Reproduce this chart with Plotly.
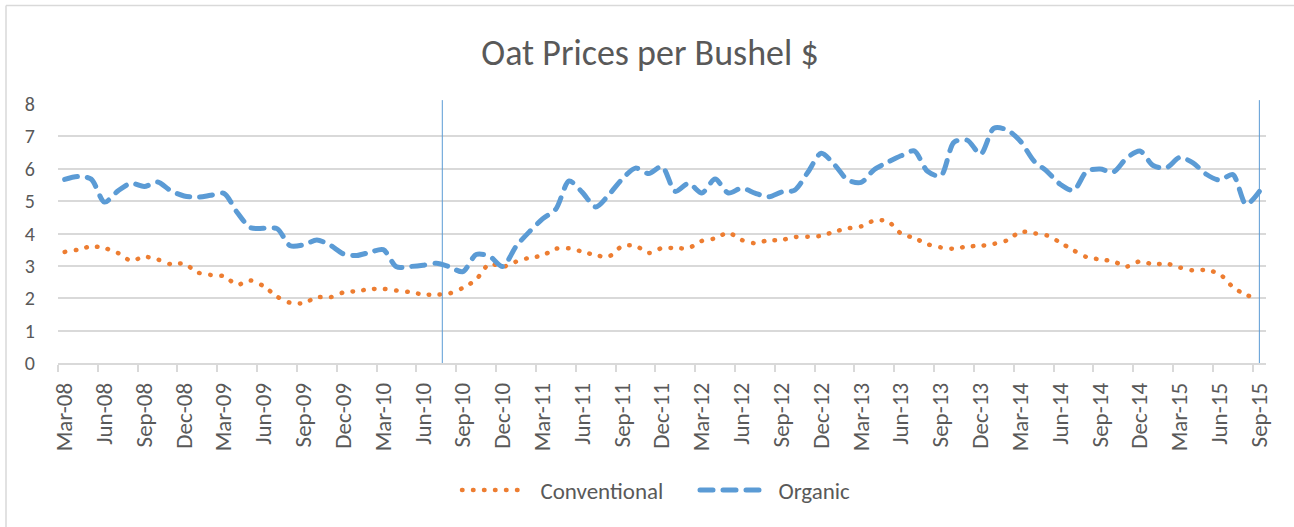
import pandas as pd
import plotly.graph_objects as go

# ---- data ----
months = list(pd.date_range("2008-03-01", "2015-09-01", freq="MS").strftime("%b-%y"))

conventional = [
    3.43, 3.50, 3.60, 3.55, 3.40, 3.16, 3.28, 3.20, 3.05, 3.07,
    2.80, 2.72, 2.68, 2.42, 2.55, 2.37, 2.05, 1.86, 1.85, 2.03,
    2.03, 2.18, 2.22, 2.28, 2.29, 2.24, 2.19, 2.12, 2.11, 2.15,
    2.32, 2.58, 3.06, 2.97, 3.13, 3.25, 3.32, 3.53, 3.54, 3.44,
    3.33, 3.29, 3.61, 3.62, 3.40, 3.55, 3.55, 3.55, 3.77, 3.85,
    4.02, 3.80, 3.70, 3.79, 3.80, 3.89, 3.90, 3.93, 4.06, 4.16,
    4.22, 4.40, 4.38, 4.00, 3.86, 3.67, 3.57, 3.53, 3.60, 3.62,
    3.68, 3.79, 4.05, 4.01, 3.94, 3.72, 3.48, 3.27, 3.20, 3.14,
    2.98, 3.14, 3.05, 3.07, 2.95, 2.86, 2.87, 2.75, 2.35, 2.10,
    2.00,
]

organic = [
    5.67, 5.76, 5.68, 4.97, 5.31, 5.55, 5.45, 5.59, 5.32, 5.16,
    5.12, 5.18, 5.24, 4.65, 4.18, 4.16, 4.15, 3.62, 3.65, 3.80,
    3.64, 3.37, 3.32, 3.42, 3.50, 2.97, 2.98, 3.02, 3.08, 2.97,
    2.82, 3.35, 3.30, 2.98, 3.60, 4.05, 4.45, 4.75, 5.62, 5.27,
    4.82, 5.20, 5.68, 6.02, 5.85, 6.07, 5.30, 5.55, 5.25, 5.68,
    5.25, 5.40, 5.25, 5.13, 5.28, 5.34, 5.90, 6.48, 6.12, 5.65,
    5.58, 5.98, 6.20, 6.40, 6.55, 5.92, 5.78, 6.82, 6.88, 6.45,
    7.25, 7.20, 6.85, 6.25, 5.92, 5.52, 5.33, 5.92, 5.99, 5.90,
    6.33, 6.55, 6.10, 6.03, 6.35, 6.18, 5.83, 5.65, 5.82, 4.90,
    5.30,
]

series_names = ["Conventional", "Organic"]

# vertical divider positions (category index along the month axis)
divider_positions = [28.45, 90]

# ---- styles ----
ORANGE = "#ED7D31"
BLUE = "#5B9BD5"
TEXT = "#595959"
GRID = "#D9D9D9"
FONT = "Calibri, Carlito, 'Open Sans', sans-serif"
PAD = "\u00a0\u00a0"

fig = go.Figure()
fig.add_trace(go.Scatter(
    x=months, y=conventional, name=PAD + series_names[0], mode="lines",
    line=dict(color=ORANGE, width=4.5, dash="0.5px,10.5px", shape="spline", smoothing=0.8),
))
fig.add_trace(go.Scatter(
    x=months, y=organic, name=PAD + series_names[1], mode="lines",
    line=dict(color=BLUE, width=5, dash="13px,10px", shape="spline", smoothing=0.8),
))

for pos in divider_positions:
    fig.add_shape(type="line", xref="x", yref="paper", x0=pos, x1=pos, y0=0, y1=1.015,
                  line=dict(color=BLUE, width=1))

# chart border (Excel chart area) - only left and top edges are visible
bx0 = (6 - 58) / 1208
by1 = (363 - 5.5) / 259
fig.add_shape(type="line", xref="paper", yref="paper", x0=bx0, x1=bx0, y0=(363 - 600) / 259, y1=by1,
              line=dict(color=GRID, width=1.5), layer="below")
fig.add_shape(type="line", xref="paper", yref="paper", x0=bx0, x1=(1450 - 58) / 1208, y0=by1, y1=by1,
              line=dict(color=GRID, width=1.5), layer="below")

fig.update_layout(
    width=1294, height=527,
    margin=dict(l=58, r=28, t=104, b=164, autoexpand=False),
    paper_bgcolor="white", plot_bgcolor="white",
    font=dict(family=FONT, color=TEXT),
    title=dict(text="Oat Prices per Bushel $", x=650 / 1294, xref="container", xanchor="center",
               y=1 - 52 / 527, yref="container", yanchor="middle",
               font=dict(size=36, color=TEXT, family=FONT)),
    showlegend=True,
    legend=dict(orientation="h", x=(457 - 58) / 1208, xanchor="left",
                y=(363 - 490) / 259, yanchor="middle",
                font=dict(size=23, color=TEXT, family=FONT), itemwidth=63,
                entrywidth=160, entrywidthmode="pixels",
                bgcolor="rgba(0,0,0,0)"),
    xaxis=dict(
        type="category", tickmode="linear", tick0=0, dtick=3, tickson="boundaries",
        range=[-0.5, len(months) - 0.5],
        tickangle=-90, tickfont=dict(size=23, color=TEXT, family=FONT),
        ticks="outside", ticklen=7, tickwidth=1.5, tickcolor=GRID,
        showline=True, linecolor=GRID, linewidth=1.5,
        showgrid=False, zeroline=False, automargin=False, ticklabelstandoff=9,
    ),
    yaxis=dict(
        range=[0, 8], dtick=1, tick0=0,
        showgrid=True, gridcolor=GRID, gridwidth=1.5,
        zeroline=False, showline=False, ticks="",
        tickfont=dict(size=20, color=TEXT, family=FONT),
        automargin=False, ticklabelstandoff=22,
    ),
)

post = """
document.documentElement.style.margin = '0';
document.documentElement.style.overflow = 'hidden';
document.body.style.margin = '0';
document.body.style.padding = '0';
document.body.style.overflow = 'hidden';
var gd = document.getElementById('{plot_id}');
function fixCaps(){
  gd.querySelectorAll('path.js-line').forEach(function(p){ p.style.strokeLinecap = 'round'; });
}
fixCaps();
gd.on('plotly_afterplot', fixCaps);
setTimeout(fixCaps, 50);
"""

fig.write_html("out.html", post_script=post, config={"displayModeBar": False})
